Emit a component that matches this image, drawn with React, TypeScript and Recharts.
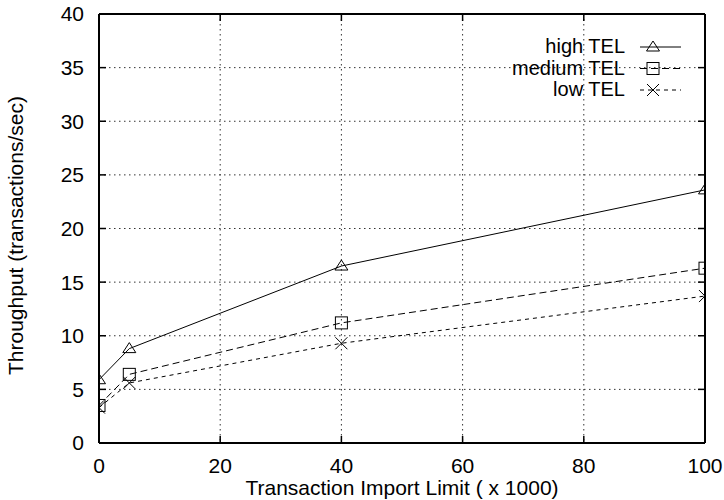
import { CartesianGrid, Legend, Line, LineChart, XAxis, YAxis } from "recharts";

// transaction import limit (x 1000)
const importLimits = [0, 5, 40, 100];
// throughput, transactions/sec
const highTel = [5.9, 8.8, 16.5, 23.6];
const mediumTel = [3.5, 6.4, 11.2, 16.3];
const lowTel = [3.3, 5.6, 9.3, 13.7];

const xTicks = [0, 20, 40, 60, 80, 100];
const yTicks = [0, 5, 10, 15, 20, 25, 30, 35, 40];

const rows = importLimits.map((x, i) => ({ x, high: highTel[i], medium: mediumTel[i], low: lowTel[i] }));

const FONT = "'Liberation Sans', Arial, Helvetica, sans-serif";
const INK = "#000";

type Mark = "tri" | "sq" | "x";

function Marker({ kind, cx, cy }: { kind: Mark; cx: number; cy: number }) {
  if (kind === "tri")
    return <polygon points={`${cx},${cy - 6} ${cx - 6.5},${cy + 4} ${cx + 6.5},${cy + 4}`} fill="none" stroke={INK} strokeWidth={1} />;
  if (kind === "sq") return <rect x={cx - 6} y={cy - 6} width={12} height={12} fill="none" stroke={INK} strokeWidth={1} />;
  return (
    <g stroke={INK} strokeWidth={1}>
      <line x1={cx - 6} y1={cy - 6} x2={cx + 6} y2={cy + 6} />
      <line x1={cx - 6} y1={cy + 6} x2={cx + 6} y2={cy - 6} />
    </g>
  );
}

const dotFor = (kind: Mark) => (p: any) => <Marker key={`${kind}-${p.index}`} kind={kind} cx={p.cx} cy={p.cy} />;

const SERIES: { key: string; name: string; mark: Mark; dash?: string }[] = [
  { key: "high", name: "high TEL", mark: "tri" },
  { key: "medium", name: "medium TEL", mark: "sq", dash: "7 4" },
  { key: "low", name: "low TEL", mark: "x", dash: "4 4" },
];

function KeyBox() {
  return (
    <svg width={200} height={75} style={{ overflow: "visible" }}>
      {SERIES.map((s, i) => {
        const y = 18 + i * 21.5;
        return (
          <g key={s.key}>
            <text x={125} y={y + 6} textAnchor="end" fontFamily={FONT} fontSize={20} fill={INK}>
              {s.name}
            </text>
            <line x1={140} x2={181} y1={y} y2={y} stroke={INK} strokeWidth={1} strokeDasharray={s.dash} />
            <Marker kind={s.mark} cx={153} cy={y} />
          </g>
        );
      })}
    </svg>
  );
}

const tickStyle = { fill: INK, fontSize: 21, fontFamily: FONT };
const blank = () => "";

export default function App() {
  return (
    <div style={{ position: "absolute", left: 0, top: 0, background: "#fff" }}>
      <LineChart width={724} height={500} data={rows} margin={{ top: 13, right: 18, bottom: 17, left: 39 }}>
        <CartesianGrid stroke="#333" strokeDasharray="1.5 3.5" strokeWidth={1} />
        <XAxis
          dataKey="x"
          type="number"
          domain={[0, 100]}
          ticks={xTicks}
          allowDataOverflow
          height={40}
          tickSize={-7}
          tickMargin={22}
          tick={tickStyle}
          axisLine={{ stroke: INK, strokeWidth: 2 }}
          tickLine={{ stroke: INK, strokeWidth: 1.5 }}
          label={{ value: "Transaction Import Limit ( x 1000)", position: "insideBottom", offset: -12, fill: INK, fontSize: 21, fontFamily: FONT }}
        />
        <XAxis
          xAxisId="top"
          orientation="top"
          dataKey="x"
          type="number"
          domain={[0, 100]}
          ticks={xTicks}
          allowDataOverflow
          height={1}
          tickSize={-7}
          tickFormatter={blank}
          axisLine={{ stroke: INK, strokeWidth: 2 }}
          tickLine={{ stroke: INK, strokeWidth: 1.5 }}
        />
        <YAxis
          type="number"
          domain={[0, 40]}
          ticks={yTicks}
          allowDataOverflow
          width={60}
          tickSize={-7}
          tickMargin={22}
          tick={tickStyle}
          axisLine={{ stroke: INK, strokeWidth: 2 }}
          tickLine={{ stroke: INK, strokeWidth: 1.5 }}
          label={{
            content: ({ viewBox }: any) => {
              const cx = viewBox.x - 16;
              const cy = viewBox.y + viewBox.height / 2 + 7;
              return (
                <text x={cx} y={cy} transform={`rotate(-90 ${cx} ${cy})`} textAnchor="middle" fontFamily={FONT} fontSize={21} fill={INK}>
                  Throughput (transactions/sec)
                </text>
              );
            },
          }}
        />
        <YAxis
          yAxisId="right"
          orientation="right"
          type="number"
          domain={[0, 40]}
          ticks={yTicks}
          allowDataOverflow
          width={1}
          tickSize={-7}
          tickFormatter={blank}
          axisLine={{ stroke: INK, strokeWidth: 2 }}
          tickLine={{ stroke: INK, strokeWidth: 1.5 }}
        />
        <Legend
          layout="vertical"
          align="center"
          verticalAlign="middle"
          wrapperStyle={{ left: 500, top: 29, width: 200, height: 75 }}
          content={() => <KeyBox />}
        />
        {SERIES.map((s) => (
          <Line
            key={s.key}
            dataKey={s.key}
            name={s.name}
            stroke={INK}
            strokeWidth={1}
            strokeDasharray={s.dash}
            dot={dotFor(s.mark)}
            activeDot={false}
            isAnimationActive={false}
          />
        ))}
      </LineChart>
    </div>
  );
}
